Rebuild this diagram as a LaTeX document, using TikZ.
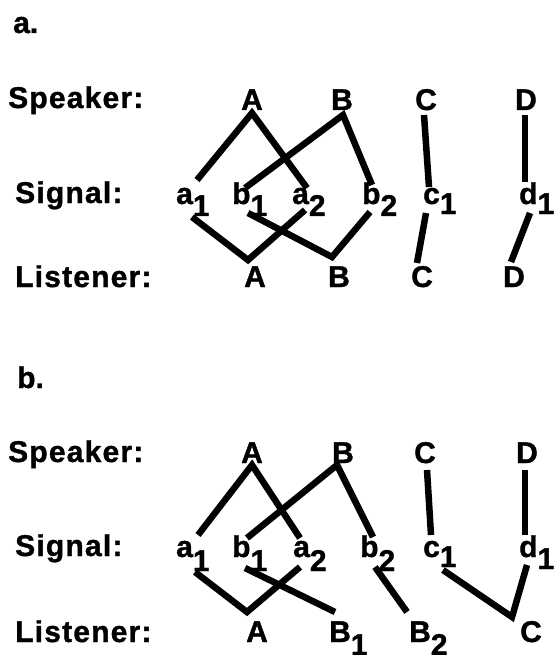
\documentclass[tikz,border=0pt]{standalone}
\usepackage{fontspec}
\setmainfont{Liberation Sans}[BoldFeatures={FakeBold=1.2}]
\newfontfamily\labfont{Liberation Sans}[LetterSpace=4, BoldFeatures={FakeBold=1.2}]
\begin{document}
\begin{tikzpicture}[x=1pt,y=-1pt,
  txt/.style={inner sep=0pt, font=\fontsize{30}{32}\selectfont\bfseries, anchor=base},
  txtw/.style={inner sep=0pt, font=\fontsize{30}{32}\selectfont\bfseries, anchor=base west},
  lab/.style={inner sep=0pt, font=\fontsize{30}{32}\selectfont\labfont\bfseries, anchor=base west},
  link/.style={line width=6.5pt, line join=miter, line cap=butt}]
\useasboundingbox[fill=white] (0,0) rectangle (554,655);

% ---------- part a ----------
\node[txtw] (ta) at (13,33) {a.};
\node[lab] (spa) at (8,108) {Speaker:};
\node[lab] (sga) at (15,203) {Signal:};
\node[lab] (lsa) at (15,287) {Listener:};

\node[txt] (aSA) at (252,110) {A};
\node[txt] (aSB) at (342,110) {B};
\node[txt] (aSC) at (426,110) {C};
\node[txt] (aSD) at (526,110) {D};

\node[txtw] (aa1) at (176,204) {a\raisebox{-12pt}{1}};
\node[txtw] (ab1) at (232,204) {b\raisebox{-12pt}{1}};
\node[txtw] (aa2) at (292,204) {a\raisebox{-12pt}{2}};
\node[txtw] (ab2) at (362,204) {b\raisebox{-12pt}{2}};
\node[txtw] (ac1) at (423,204) {c\raisebox{-10pt}{1}};
\node[txtw] (ad1) at (519,204) {d\raisebox{-10pt}{1}};

\node[txt] (aLA) at (255,287) {A};
\node[txt] (aLB) at (339,287) {B};
\node[txt] (aLC) at (422,287) {C};
\node[txt] (aLD) at (514,287) {D};

\coordinate (pA) at (252,113);
\coordinate (pa1t) at (197,180);
\coordinate (pa2t) at (307,188);
\coordinate (pB) at (343,115);
\coordinate (pb1t) at (245,188);
\coordinate (pb2t) at (372,185);
\coordinate (pC) at (424,115);
\coordinate (pc1t) at (429,187);
\coordinate (pD) at (525,115);
\coordinate (pd1t) at (525,182);
\coordinate (pa1b) at (192,217);
\coordinate (qA) at (248,260);
\coordinate (pa2b) at (305,210);
\coordinate (pb1b) at (248,213);
\coordinate (qB) at (332,257);
\coordinate (pb2b) at (370,212);
\coordinate (pc1b) at (426,213);
\coordinate (qC) at (417,263);
\coordinate (pd1b) at (530,213);
\coordinate (qD) at (511,262);

\draw[link] (pa1t) -- (pA) -- (pa2t);
\draw[link] (pb1t) -- (pB) -- (pb2t);
\draw[link] (pC) -- (pc1t);
\draw[link] (pD) -- (pd1t);
\draw[link] (pa1b) -- (qA) -- (pa2b);
\draw[link] (pb1b) -- (qB) -- (pb2b);
\draw[link] (pc1b) -- (qC);
\draw[link] (pd1b) -- (qD);

% ---------- part b ----------
\node[txtw] (tb) at (17,388) {b.};
\node[lab] (spb) at (8,462) {Speaker:};
\node[lab] (sgb) at (15,556) {Signal:};
\node[lab] (lsb) at (15,642) {Listener:};

\node[txt] (bSA) at (252,463) {A};
\node[txt] (bSB) at (343,463) {B};
\node[txt] (bSC) at (425,463) {C};
\node[txt] (bSD) at (527,463) {D};

\node[txtw] (ba1) at (176,557) {a\raisebox{-14pt}{1}};
\node[txtw] (bb1) at (232,557) {b\raisebox{-14pt}{1}};
\node[txtw] (ba2) at (293,557) {a\raisebox{-14pt}{2}};
\node[txtw] (bb2) at (360,557) {b\raisebox{-14pt}{2}};
\node[txtw] (bc1) at (423,557) {c\raisebox{-10pt}{1}};
\node[txtw] (bd1) at (519,557) {d\raisebox{-12pt}{1}};

\node[txt] (bLA) at (257,642) {A};
\node[txtw] (bLB1) at (329,642) {B\raisebox{-13pt}{1}};
\node[txtw] (bLB2) at (409,642) {B\raisebox{-13pt}{2}};
\node[txt] (bLC) at (531,642) {C};

\coordinate (rA) at (252,465);
\coordinate (ra1t) at (198,535);
\coordinate (ra2t) at (300,538);
\coordinate (rB) at (337,465);
\coordinate (rb1t) at (247,538);
\coordinate (rb2t) at (373,537);
\coordinate (rC) at (427,470);
\coordinate (rc1t) at (431,535);
\coordinate (rD) at (525,470);
\coordinate (rd1t) at (525,535);
\coordinate (ra1b) at (195,572);
\coordinate (sA) at (247,612);
\coordinate (ra2b) at (300,567);
\coordinate (rb1b) at (245,568);
\coordinate (sB1) at (335,612);
\coordinate (rb2b) at (375,567);
\coordinate (sB2) at (407,612);
\coordinate (rc1b) at (443,570);
\coordinate (sC) at (512,617);
\coordinate (rd1b) at (527,565);

\draw[link] (ra1t) -- (rA) -- (ra2t);
\draw[link] (rb1t) -- (rB) -- (rb2t);
\draw[link] (rC) -- (rc1t);
\draw[link] (rD) -- (rd1t);
\draw[link] (ra1b) -- (sA) -- (ra2b);
\draw[link] (rb1b) -- (sB1);
\draw[link] (rb2b) -- (sB2);
\draw[link] (rc1b) -- (sC) -- (rd1b);
\end{tikzpicture}
\end{document}
